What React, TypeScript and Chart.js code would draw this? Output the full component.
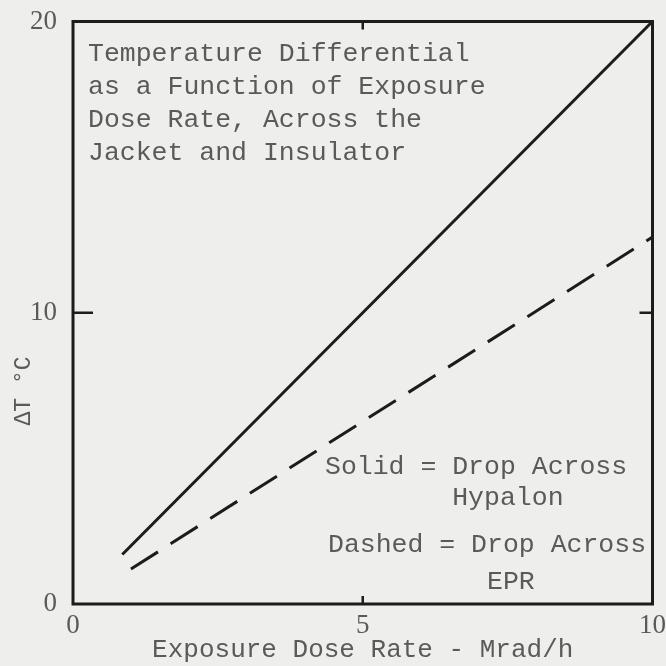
import React, { useEffect, useRef } from "react";
import { Chart, registerables } from "chart.js";

Chart.register(...registerables);

const solidX = [0.85, 10];
const solidY = [1.7, 20];
const dashedX = [1.0, 10];
const dashedY = [1.2, 12.6];
const xTicks = [0, 5, 10];
const yTicks = [0, 10, 20];
const xTitle = "Exposure Dose Rate - Mrad/h";
const yTitle = "\u0394T \u00b0C";
const noteLines = [
  "Temperature Differential",
  "as a Function of Exposure",
  "Dose Rate, Across the",
  "Jacket and Insulator",
];
const legendLines = [
  "Solid = Drop Across",
  "        Hypalon",
  "Dashed = Drop Across",
  "          EPR",
];

const MONO = "'Liberation Mono', 'DejaVu Sans Mono', monospace";
const SERIF = "'Liberation Serif', 'DejaVu Serif', serif";
const TEXT = "#5a5a5a";
const INK = "#1c1c1c";
const BG = "#eeeeec";

const decor = {
  id: "decor",
  beforeDraw(chart: any) {
    const { ctx, width, height } = chart;
    ctx.save();
    ctx.fillStyle = BG;
    ctx.fillRect(0, 0, width, height);
    ctx.restore();
  },
  afterDraw(chart: any) {
    const { ctx, chartArea: a, scales } = chart;
    const xs = scales.x;
    const ys = scales.y;
    ctx.save();
    // frame
    ctx.strokeStyle = INK;
    ctx.lineWidth = 3;
    ctx.strokeRect(a.left, a.top, a.right - a.left, a.bottom - a.top);
    // inward ticks
    ctx.lineWidth = 2.5;
    const y10 = ys.getPixelForValue(10);
    ctx.beginPath();
    ctx.moveTo(a.left, y10);
    ctx.lineTo(a.left + 20, y10);
    ctx.moveTo(a.right, y10);
    ctx.lineTo(a.right - 13, y10);
    const x5 = xs.getPixelForValue(5);
    ctx.moveTo(x5, a.bottom);
    ctx.lineTo(x5, a.bottom - 8);
    ctx.moveTo(x5, a.top);
    ctx.lineTo(x5, a.top + 8);
    ctx.stroke();
    // annotation text
    ctx.fillStyle = TEXT;
    ctx.font = "26.5px " + MONO;
    ctx.textAlign = "left";
    ctx.textBaseline = "middle";
    noteLines.forEach((t, i) => {
      ctx.fillText(t, a.left + 15, a.top + 32 + i * 33);
    });
    const legY = [467, 498, 545, 582];
    const legX = [325, 325, 328, 328];
    legendLines.forEach((t, i) => {
      ctx.fillText(t, legX[i], legY[i]);
    });
    // y title
    ctx.font = "23px " + MONO;
    ctx.translate(24, 391);
    ctx.rotate(-Math.PI / 2);
    ctx.textAlign = "center";
    ctx.fillText(yTitle, 0, 0);
    ctx.restore();
  },
};

export default function App() {
  const ref = useRef<HTMLCanvasElement>(null);
  useEffect(() => {
    if (!ref.current) return;
    const chart = new Chart(ref.current, {
      type: "scatter",
      data: {
        datasets: [
          {
            label: "Solid = Drop Across Hypalon",
            data: solidX.map((x, i) => ({ x, y: solidY[i] })),
            showLine: true,
            borderColor: INK,
            borderWidth: 3,
            pointRadius: 0,
          },
          {
            label: "Dashed = Drop Across EPR",
            data: dashedX.map((x, i) => ({ x, y: dashedY[i] })),
            showLine: true,
            borderColor: INK,
            borderWidth: 3,
            borderDash: [32, 15],
            pointRadius: 0,
          },
        ],
      },
      options: {
        animation: false,
        responsive: false,
        layout: { padding: { top: 20, right: 13, left: 0, bottom: 0 }, autoPadding: false },
        plugins: { legend: { display: false }, tooltip: { enabled: false } },
        scales: {
          x: {
            type: "linear",
            min: 0,
            max: 10,
            afterBuildTicks: (s: any) => {
              s.ticks = xTicks.map((v) => ({ value: v }));
            },
            afterFit: (s: any) => {
              s.height = 62;
            },
            ticks: {
              font: { family: SERIF, size: 27, lineHeight: 1 },
              color: TEXT,
              padding: 0,
              maxRotation: 0,
            },
            grid: { display: false },
            border: { display: false },
            title: {
              display: true,
              text: xTitle,
              font: { family: MONO, size: 26 },
              color: TEXT,
              padding: 0,
            },
          },
          y: {
            type: "linear",
            min: 0,
            max: 20,
            afterBuildTicks: (s: any) => {
              s.ticks = yTicks.map((v) => ({ value: v }));
            },
            afterFit: (s: any) => {
              s.width = 73;
            },
            ticks: {
              font: { family: SERIF, size: 27, lineHeight: 1 },
              color: TEXT,
              padding: 8,
            },
            grid: { display: false },
            border: { display: false },
          },
        },
      },
      plugins: [decor],
    } as any);
    return () => chart.destroy();
  }, []);
  return (
    <div style={{ position: "fixed", left: 0, top: 0, width: 666, height: 666 }}>
      <canvas ref={ref} width={666} height={666} />
    </div>
  );
}
